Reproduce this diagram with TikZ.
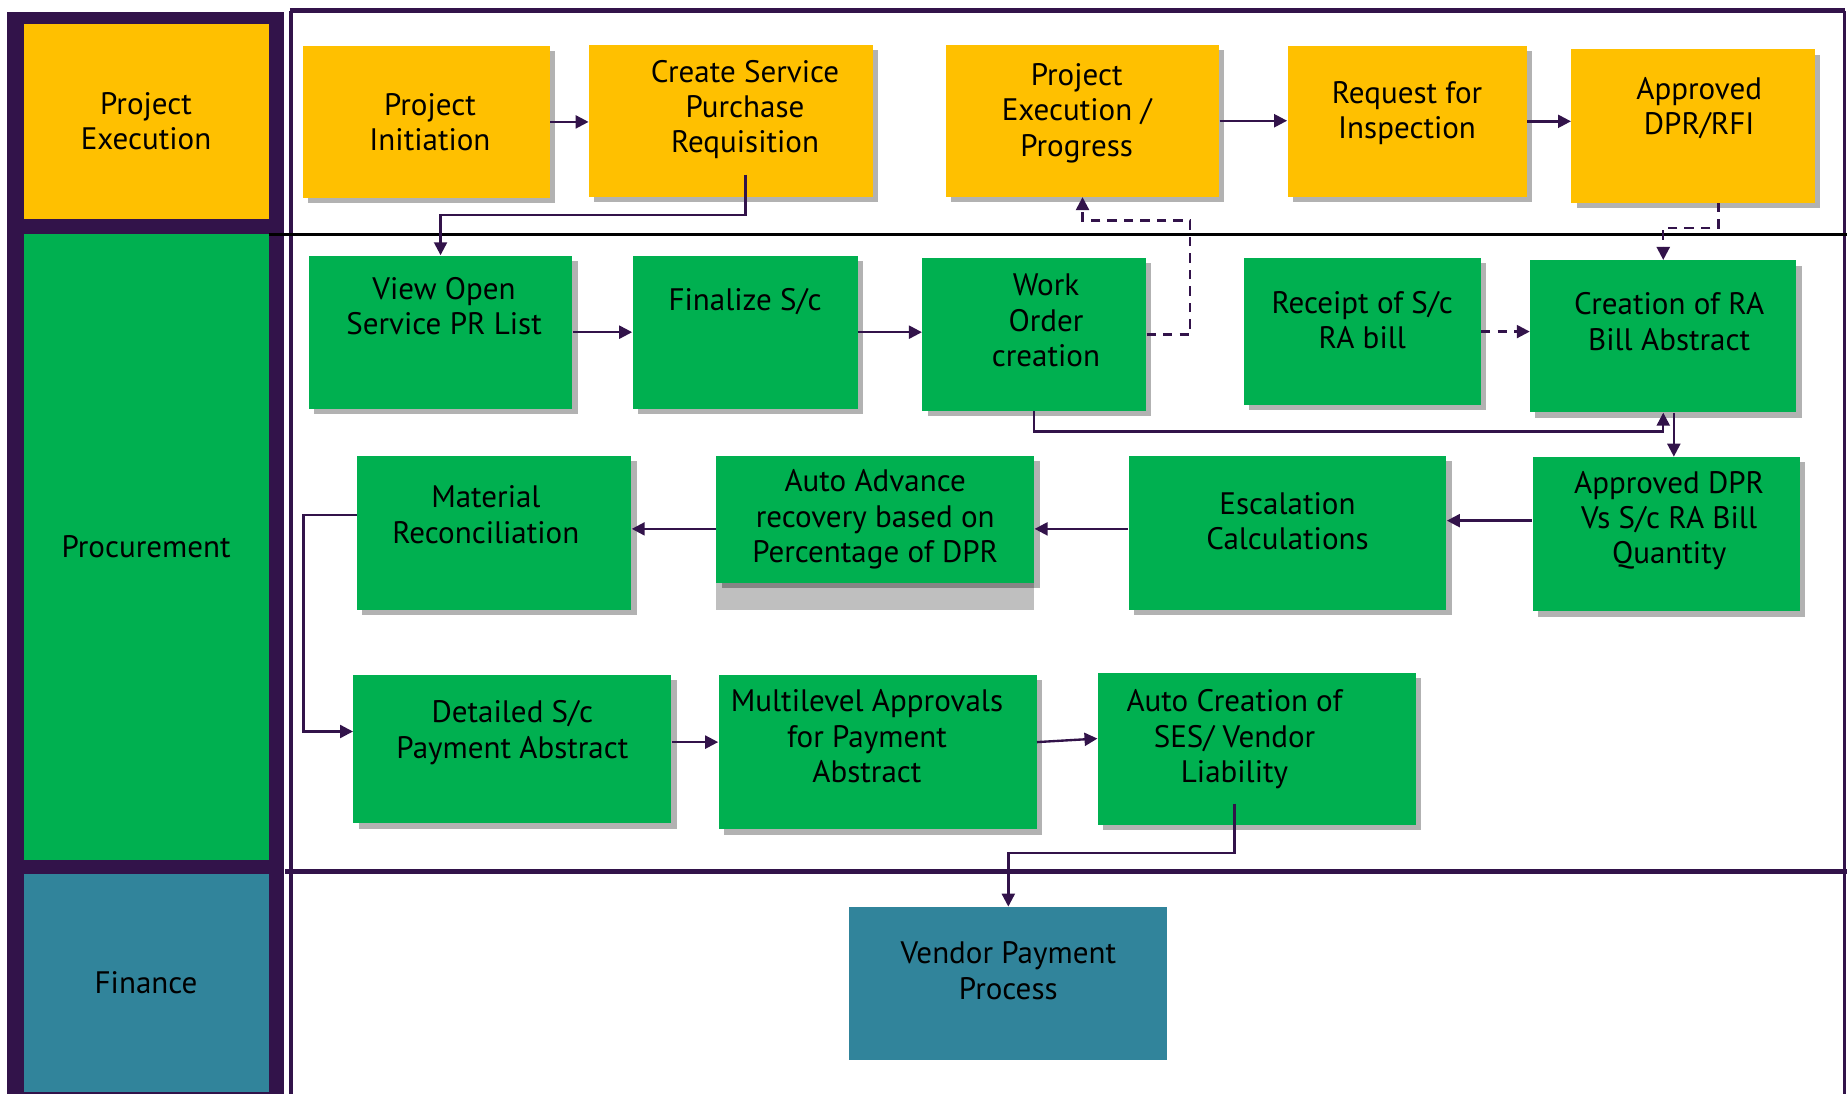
\documentclass[tikz,border=0pt]{standalone}
\usepackage{fontspec}
\setmainfont{PT Sans}
\usetikzlibrary{arrows.meta,shadows,calc}
\definecolor{yel}{HTML}{FFC000}
\definecolor{grn}{HTML}{00B050}
\definecolor{fin}{HTML}{31849B}
\definecolor{lanedark}{HTML}{32134A}
\newcommand\boxfont{\fontsize{15}{17.1}\selectfont}
\tikzset{
  pbox/.style={rectangle, inner sep=0pt, drop shadow={shadow xshift=0.09cm, shadow yshift=-0.09cm, fill=black, opacity=0.3}},
  ybox/.style={pbox, fill=yel},
  gbox/.style={pbox, fill=grn},
  sz/.style args={#1x#2}{minimum width=#1cm, minimum height=#2cm},
  txt/.style={align=center, font=\boxfont},
  flow/.style={draw=lanedark, line width=0.04cm, -{Triangle[length=0.22cm,width=0.22cm]}},
  dflow/.style={flow, dash pattern=on 0.16cm off 0.12cm},
}
\begin{document}
\begin{tikzpicture}[x=0.02cm, y=-0.02cm]
\useasboundingbox (0,0) rectangle (1568,929);
% lanes
\fill[lanedark] (6,10) rectangle (241,929);
\node[txt, fill=yel, sz=4.16x3.32] (lpe) at (124,103) {Project\\Execution};
\node[txt, fill=grn, sz=4.16x10.62] (lproc) at (124,464.5) {Procurement};
\node[txt, fill=fin, sz=4.16x3.7] (lfin) at (124,834.5) {Finance};
\draw[lanedark, line width=0.06cm] (247,9) -- (247,929);
\draw[lanedark, line width=0.08cm] (246,9) -- (1566,9);
\draw[lanedark, line width=0.04cm] (1566,9) -- (1566,929);
\draw[black, line width=0.06cm] (228,199) -- (1568,199);
\draw[lanedark, line width=0.08cm] (242,740) -- (1568,740);
% project execution
\node[ybox, sz=4.2x2.58, label={[txt,xshift=0.06cm]center:Project\\Initiation}] (init) at (362,103.5) {};
\node[ybox, sz=4.82x2.58, label={[txt,xshift=0.24cm,yshift=0.19cm]center:Create Service\\Purchase\\Requisition}] (createpr) at (620.5,102.5) {};
\node[ybox, sz=4.64x2.58, label={[txt,xshift=-0.1cm,yshift=0.13cm]center:Project\\Execution /\\Progress}] (progress) at (919,102.5) {};
\node[ybox, sz=4.06x2.56, label={[txt,yshift=0.14cm]center:Request for\\Inspection}] (req) at (1194.5,103) {};
\node[ybox, sz=4.14x2.6, label={[txt,xshift=0.1cm,yshift=0.3cm]center:Approved\\DPR/RFI}] (apprfi) at (1437.5,107) {};
% procurement
\node[gbox, sz=4.48x2.6, label={[txt,xshift=0.06cm,yshift=0.44cm]center:View Open\\Service PR List}] (viewpr) at (374,282) {};
\node[gbox, sz=3.82x2.6, label={[txt,yshift=0.52cm]center:Finalize S/c}] (finsc) at (632.5,282) {};
\node[gbox, sz=3.8x2.6, label={[txt,xshift=0.2cm,yshift=0.24cm]center:Work\\Order\\creation}] (wo) at (878,284) {};
\node[gbox, sz=4.02x2.5, label={[txt,yshift=0.19cm]center:Receipt of S/c\\RA bill}] (receipt) at (1156.5,281.5) {};
\node[gbox, sz=4.52x2.58, label={[txt,xshift=0.1cm,yshift=0.25cm]center:Creation of RA\\Bill Abstract}] (creara) at (1412,285.5) {};
\node[gbox, sz=4.66x2.62, label={[txt,xshift=-0.14cm,yshift=0.31cm]center:Material\\Reconciliation}] (matrec) at (419.5,452.5) {};
\fill[gray!50] (608,495) rectangle (878,518);
\node[gbox, sz=5.4x2.16, label={[txt]center:Auto Advance\\recovery based on\\Percentage of DPR}] (autoadv) at (743,441) {};
\node[gbox, sz=5.4x2.62, label={[txt,yshift=0.2cm]center:Escalation\\Calculations}] (escal) at (1093,452.5) {};
\node[gbox, sz=4.54x2.62, label={[txt,xshift=0.05cm,yshift=0.23cm]center:Approved DPR\\Vs S/c RA Bill\\Quantity}] (apprvs) at (1414.5,453.5) {};
\node[gbox, sz=5.4x2.52, label={[txt,yshift=0.28cm]center:Detailed S/c\\Payment Abstract}] (detail) at (435,636) {};
\node[gbox, sz=5.4x2.62, label={[txt,xshift=-0.18cm,yshift=0.27cm]center:Multilevel Approvals\\for Payment\\Abstract}] (multi) at (745,638.5) {};
\node[gbox, sz=5.4x2.58, label={[txt,xshift=-0.38cm,yshift=0.16cm]center:Auto Creation of\\SES/ Vendor\\Liability}] (autocre) at (1067,635.5) {};
% finance
\node[rectangle, fill=fin, sz=5.4x2.6, label={[txt,yshift=0.22cm]center:Vendor Payment\\Process}] (vendor) at (856,835) {};
% connectors
\draw[flow] (init.east) -- (init.east -| createpr.west);
\draw[flow] ([xshift=0.25cm,yshift=0.38cm]createpr.south) -- ++(0,34) -| (viewpr.north);
\draw[flow] (viewpr.east) -- (viewpr.east -| finsc.west);
\draw[flow] (finsc.east) -- (finsc.east -| wo.west);
\draw[dflow] (wo.east) -- ++(37,0) |- ($(progress.south)+(0,20)$) -- (progress.south);
\draw[flow] (progress.east) -- (progress.east -| req.west);
\draw[flow] (req.east) -- (req.east -| apprfi.west);
\draw[dflow] ([xshift=0.43cm]apprfi.south) -- ++(0,21) -| (creara.north);
\draw[dflow] (receipt.east) -- (receipt.east -| creara.west);
\draw[flow] (wo.south) -- ++(0,17) -| (creara.south);
\draw[flow] ([xshift=0.18cm]creara.south) -- ([xshift=0.18cm]creara.south |- apprvs.north);
\draw[flow] ([yshift=0.23cm]apprvs.west) -- ([yshift=0.23cm]apprvs.west -| escal.east);
\draw[flow] ([yshift=0.07cm]escal.west) -- ([yshift=0.07cm]escal.west -| autoadv.east);
\draw[flow] ([yshift=-0.16cm]autoadv.west) -- ([yshift=-0.16cm]autoadv.west -| matrec.east);
\draw[flow] ([yshift=0.31cm]matrec.west) -- ++(-45,0) |- ([yshift=0.3cm]detail.west);
\draw[flow] ([yshift=0.12cm]detail.east) -- ([yshift=0.12cm]detail.east -| multi.west);
\draw[flow] ([yshift=0.17cm]multi.east) -- ([yshift=0.17cm]autocre.west);
\draw[flow] ([xshift=-0.38cm,yshift=0.36cm]autocre.south) -- ++(0,42) -| (vendor.north);
\end{tikzpicture}
\end{document}
